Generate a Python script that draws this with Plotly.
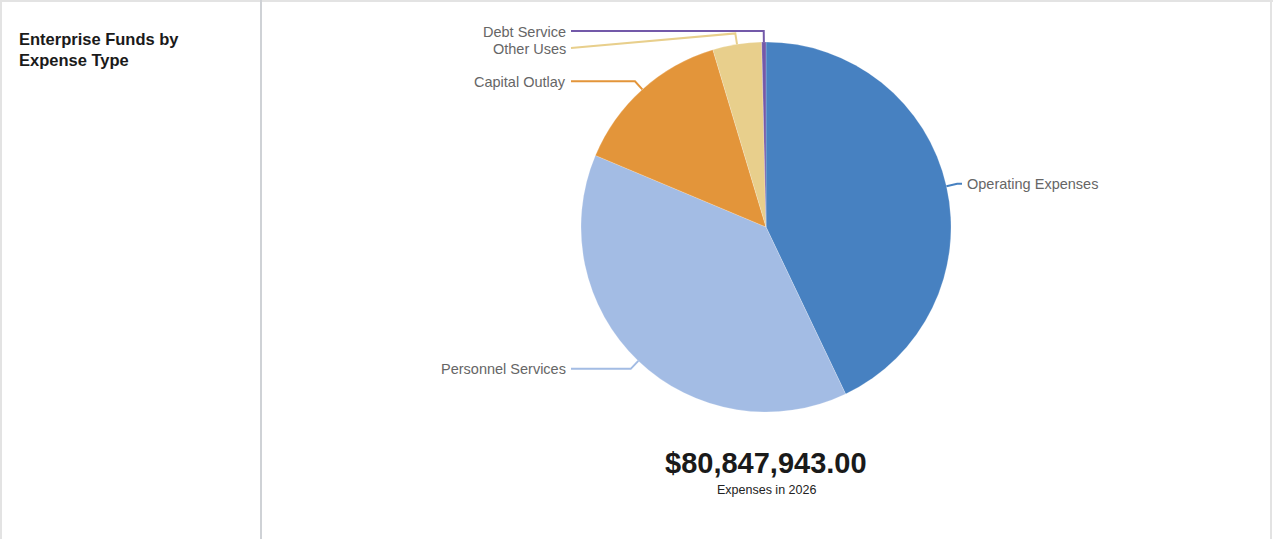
import math
import plotly.graph_objects as go

# ---- data ----
categories = ["Operating Expenses", "Personnel Services", "Capital Outlay", "Other Uses", "Debt Service"]
values = [34700000, 31050000, 11350000, 3450000, 297943]
colors = ["#4781c1", "#a3bce4", "#e3953a", "#e8cf8c", "#7359a9"]
title_text = "Enterprise Funds by<br>Expense Type"
total_label = "Expenses in 2026"

W, H = 1273, 539
# pie geometry in pixels
cx, cy, R = 766, 227, 185


def px(x):
    return x / W


def py(y):
    return 1 - y / H


fig = go.Figure()
fig.add_trace(go.Pie(
    labels=categories, values=values, sort=False, direction="clockwise", rotation=0,
    marker=dict(colors=colors, line=dict(color="rgba(255,255,255,0.4)", width=0.5)),
    textinfo="none", hoverinfo="label+value+percent", showlegend=False,
    domain=dict(x=[px(cx - R), px(cx + R)], y=[py(cy + R), py(cy - R)]),
))

# leader lines + labels computed from data
total = sum(values)
cum = 0
items = []
for name, v, c in zip(categories, values, colors):
    mid = (cum + v / 2) / total * 2 * math.pi
    cum += v
    sx, sy = cx + R * math.sin(mid), cy - R * math.cos(mid)
    ex, ey = cx + (R + 11) * math.sin(mid), cy - (R + 11) * math.cos(mid)
    side = "right" if math.sin(mid) > 0.05 else "left"
    items.append(dict(name=name, c=c, sx=sx, sy=sy, ex=ex, ey=ey, side=side, ly=ey))

for side in ("left", "right"):
    grp = sorted([it for it in items if it["side"] == side], key=lambda d: d["ey"])
    prev = -1e9
    for it in grp:
        it["ly"] = max(it["ey"], prev + 17)
        prev = it["ly"]

for it in items:
    endx = 571 if it["side"] == "left" else 962
    fig.add_shape(type="path", xref="paper", yref="paper",
                  path=f"M {px(it['sx'])},{py(it['sy'])} L {px(it['ex'])},{py(it['ey'])} "
                       f"L {px(endx)},{py(it['ly'])}",
                  line=dict(color=it["c"], width=2))
    fig.add_annotation(xref="paper", yref="paper",
                       x=px(endx + (-3 if it["side"] == "left" else 3)), y=py(it["ly"] + 0.5),
                       text=it["name"], showarrow=False,
                       xanchor="right" if it["side"] == "left" else "left", yanchor="middle",
                       font=dict(size=14.5, color="#666666"))

# total
fig.add_annotation(xref="paper", yref="paper", x=px(cx), y=py(463),
                   text=f"<b>${total:,.2f}</b>", showarrow=False, xanchor="center", yanchor="middle",
                   font=dict(size=29, color="#1a1a1a"))
fig.add_annotation(xref="paper", yref="paper", x=px(cx), y=py(490),
                   text=total_label, showarrow=False, xanchor="center", yanchor="middle",
                   font=dict(size=12.5, color="#222222"))

# title
fig.add_annotation(xref="paper", yref="paper", x=px(17), y=py(28),
                   text=f"<b>{title_text}</b>", showarrow=False, xanchor="left", yanchor="top",
                   align="left", font=dict(size=16.5, color="#1a1a1a"))

# frame
fig.add_shape(type="line", xref="paper", yref="paper", x0=0, x1=1, y0=py(1), y1=py(1),
              line=dict(color="#e3e3e3", width=2))
fig.add_shape(type="line", xref="paper", yref="paper", x0=px(1), x1=px(1), y0=0, y1=1,
              line=dict(color="#e3e3e3", width=2))
fig.add_shape(type="line", xref="paper", yref="paper", x0=px(1271), x1=px(1271), y0=0, y1=1,
              line=dict(color="#e3e3e3", width=2))
fig.add_shape(type="line", xref="paper", yref="paper", x0=px(261), x1=px(261), y0=0, y1=1,
              line=dict(color="#cfd2d6", width=2))

fig.update_layout(width=W, height=H, margin=dict(l=0, r=0, t=0, b=0),
                  paper_bgcolor="white", plot_bgcolor="white",
                  font=dict(family="Liberation Sans, Arial, sans-serif"))
fig.write_html("out.html", config={"displayModeBar": False},
               post_script="document.body.style.margin='0';document.body.style.overflow='hidden';")
